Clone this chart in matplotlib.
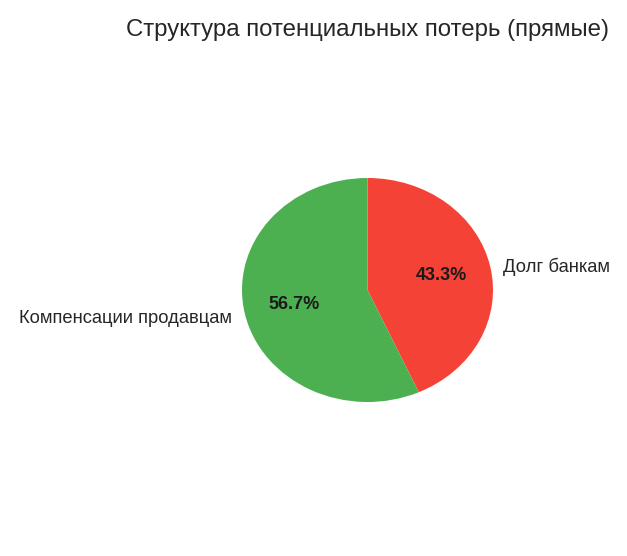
import matplotlib
matplotlib.use("Agg")
import matplotlib.pyplot as plt

plt.rcParams['font.family'] = ['Liberation Sans', 'DejaVu Sans']

labels = ['Долг банкам', 'Компенсации продавцам']
values = [43.3, 56.7]
colors = ['#F44336', '#4CAF50']
title = 'Структура потенциальных потерь (прямые)'

fig = plt.figure(figsize=(6.27, 5.56), dpi=100)
fig.patch.set_facecolor('white')
ax = fig.add_axes([242/627, 1 - 402/556, 251/627, 224/556])
wedges, texts, autotexts = ax.pie(values, labels=labels, colors=colors,
                                  startangle=90, counterclock=False,
                                  autopct='%1.1f%%', pctdistance=0.6,
                                  labeldistance=1.1,
                                  textprops={'fontsize': 13.2, 'color': '#262626'},
                                  frame=False)
for t in texts:
    x, y = t.get_position()
    t.set_position((x, y - 0.025))
for t in autotexts:
    t.set_fontweight('bold')
    t.set_fontsize(13)
    t.set_color('#1a1a1a')
ax.set_aspect('auto')
ax.set_xlim(-1, 1)
ax.set_ylim(-1, 1)
fig.text(367/627, 1 - 30/556, title, ha='center', va='center', fontsize=17.3, color='#262626')
fig.savefig('out.png', dpi=100, facecolor='white')
